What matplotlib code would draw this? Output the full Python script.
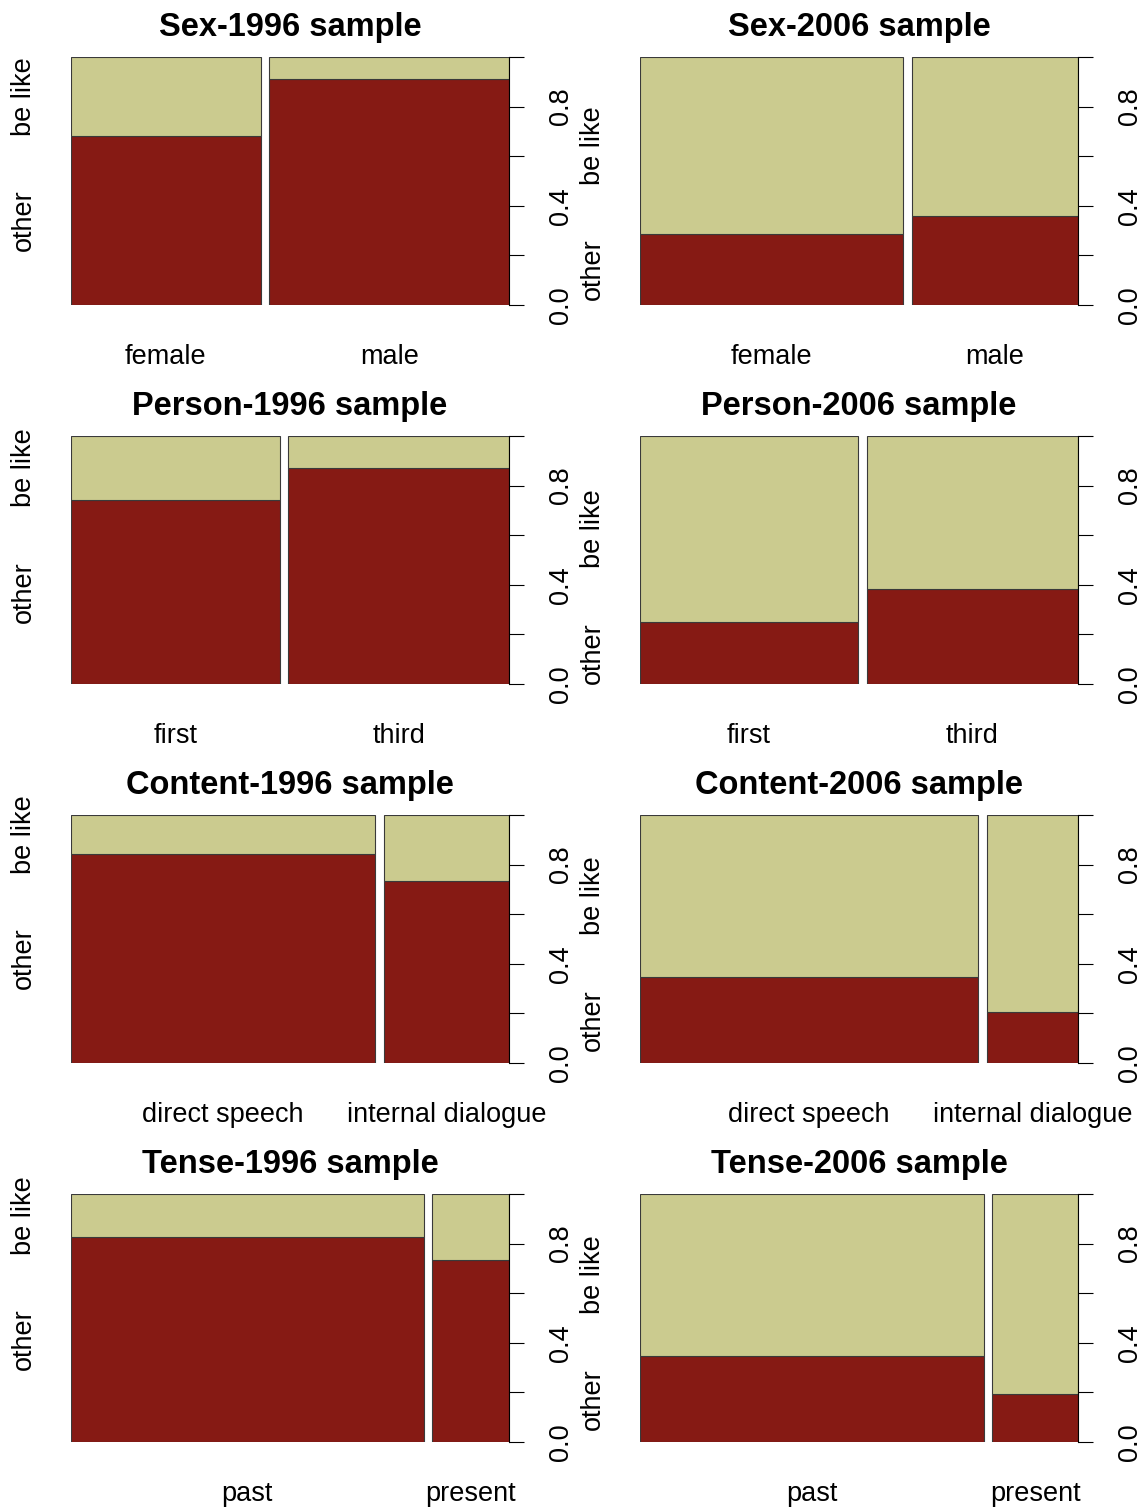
import matplotlib
matplotlib.use('agg')
import matplotlib.pyplot as plt
from matplotlib import transforms
import numpy as np

plt.rcParams['font.family'] = ['Liberation Sans', 'DejaVu Sans']

# Response levels (bottom to top) and colours.
resp_levels = ['other', 'be like']
resp_colors = ['#861a14', '#cbcb8f']

sex_levels = ['female', 'male']
sex_1996_share = [0.442, 0.558]
sex_1996_other = [0.681, 0.911]
sex_2006_share = [0.613, 0.387]
sex_2006_other = [0.286, 0.359]

person_levels = ['first', 'third']
person_1996_share = [0.486, 0.514]
person_1996_other = [0.742, 0.871]
person_2006_share = [0.508, 0.492]
person_2006_other = [0.250, 0.383]

content_levels = ['direct speech', 'internal dialogue']
content_1996_share = [0.709, 0.291]
content_1996_other = [0.843, 0.734]
content_2006_share = [0.788, 0.212]
content_2006_other = [0.347, 0.206]

tense_levels = ['past', 'present']
tense_1996_share = [0.821, 0.179]
tense_1996_other = [0.827, 0.734]
tense_2006_share = [0.800, 0.200]
tense_2006_other = [0.347, 0.194]

panels = [
    ('Sex-1996 sample', sex_levels, sex_1996_share, sex_1996_other),
    ('Sex-2006 sample', sex_levels, sex_2006_share, sex_2006_other),
    ('Person-1996 sample', person_levels, person_1996_share, person_1996_other),
    ('Person-2006 sample', person_levels, person_2006_share, person_2006_other),
    ('Content-1996 sample', content_levels, content_1996_share, content_1996_other),
    ('Content-2006 sample', content_levels, content_2006_share, content_2006_other),
    ('Tense-1996 sample', tense_levels, tense_1996_share, tense_1996_other),
    ('Tense-2006 sample', tense_levels, tense_2006_share, tense_2006_other),
]

W, H = 1142, 1508
fig = plt.figure(figsize=(W / 100, H / 100), dpi=100)

col_x = [71, 640]
row_top = [57, 436, 815, 1194]
ax_w, ax_h = 438, 248
off = 0.02
fs = 19.5
edge = '#3a3a3a'

for pidx, (title, levels, share, other) in enumerate(panels):
    r, c = divmod(pidx, 2)
    x0 = col_x[c]
    y0 = row_top[r] + ax_h
    ax = fig.add_axes([x0 / W, 1 - y0 / H, ax_w / W, ax_h / H])

    share = np.array(share)
    other = np.array(other)
    n = len(levels)
    lefts = np.concatenate([[0], np.cumsum(share)[:-1]]) + off * np.arange(n)
    centers = lefts + share / 2

    ax.bar(lefts, other, width=share, align='edge', color=resp_colors[0],
           edgecolor=edge, linewidth=0.8)
    ax.bar(lefts, 1 - other, bottom=other, width=share, align='edge',
           color=resp_colors[1], edgecolor=edge, linewidth=0.8)

    ax.set_xlim(0, 1 + off * (n - 1))
    ax.set_ylim(0, 1)
    for s in ['top', 'left', 'bottom']:
        ax.spines[s].set_visible(False)
    ax.spines['right'].set_bounds(0, 1)
    ax.spines['right'].set_linewidth(0.8)

    # right axis: proportions
    ax.yaxis.tick_right()
    ax.set_yticks(np.arange(0, 1.01, 0.2))
    ax.set_yticklabels(['0.0', '', '0.4', '', '0.8', ''], rotation=90,
                       va='center', fontsize=fs)
    ax.tick_params(axis='y', length=11, width=0.8, pad=17)

    # x labels under the bars
    ax.set_xticks(centers)
    ax.set_xticklabels(levels, fontsize=fs)
    ax.tick_params(axis='x', length=0, pad=28)

    # left labels at the midpoints of the first bar's segments
    trans = transforms.blended_transform_factory(
        transforms.offset_copy(ax.transAxes, fig=fig, x=-47, units='dots'), ax.transData)
    mids = [other[0] / 2, other[0] + (1 - other[0]) / 2]
    for lab, ym in zip(resp_levels, mids):
        ax.text(0, ym, lab, transform=trans, rotation=90, ha='center',
                va='center', fontsize=fs)

    ax.set_title(title, fontsize=23.5, fontweight='bold', pad=15)

fig.savefig('out.png', dpi=100)
